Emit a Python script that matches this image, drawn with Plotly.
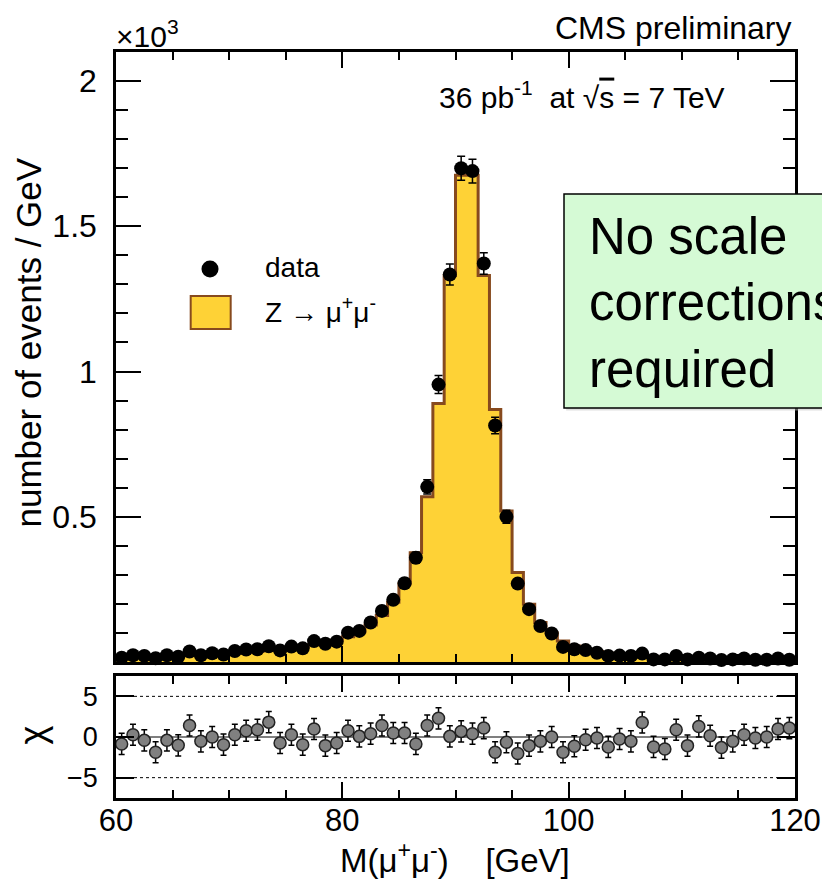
import numpy as np
import plotly.graph_objects as go

# ---- data (x10^3 events / GeV) ----
bin_edges = np.arange(60, 121, 1)          # 1 GeV bins, 60..120
bin_centers = bin_edges[:-1] + 0.5

data_vals = [0.015, 0.023, 0.021, 0.013, 0.023, 0.018, 0.036, 0.023, 0.030, 0.026,
             0.038, 0.043, 0.044, 0.054, 0.040, 0.053, 0.047, 0.072, 0.063, 0.070,
             0.101, 0.107, 0.136, 0.176, 0.214, 0.271, 0.359, 0.603, 0.955, 1.334,
             1.700, 1.690, 1.372, 0.814, 0.500, 0.270, 0.182, 0.124, 0.098, 0.052,
             0.044, 0.041, 0.032, 0.021, 0.022, 0.021, 0.029, 0.009, 0.009, 0.021,
             0.009, 0.015, 0.012, 0.007, 0.009, 0.012, 0.008, 0.008, 0.012, 0.008]

zmumu_vals = [0.016, 0.017, 0.018, 0.019, 0.020, 0.021, 0.023, 0.024, 0.026, 0.028,
              0.030, 0.033, 0.036, 0.040, 0.044, 0.048, 0.053, 0.059, 0.066, 0.075,
              0.087, 0.104, 0.127, 0.160, 0.206, 0.269, 0.376, 0.569, 0.890, 1.331,
              1.676, 1.676, 1.331, 0.869, 0.520, 0.308, 0.199, 0.136, 0.100, 0.072,
              0.055, 0.044, 0.036, 0.030, 0.026, 0.023, 0.020, 0.018, 0.016, 0.015,
              0.014, 0.013, 0.012, 0.011, 0.011, 0.010, 0.010, 0.009, 0.009, 0.009]

chi_vals = [-0.85, 0.28, -0.41, -1.87, -0.41, -1.02, 1.42, -0.53, 0.00, -0.94,
            0.28, 0.77, 0.89, 1.83, -0.73, 0.28, -0.94, 0.98, -1.06, -0.73,
            0.77, 0.08, 0.41, 1.42, 0.49, 0.49, -0.85, 1.42, 2.30, 0.08,
            0.69, 0.41, 1.10, -1.87, -0.65, -2.03, -1.06, -0.53, 0.00, -1.87,
            -1.14, -0.33, -0.12, -1.22, -0.24, -0.53, 1.79, -1.22, -1.47, 0.89,
            -1.06, 1.30, 0.16, -1.30, -0.53, 0.28, -0.12, 0.00, 0.98, 1.10]
chi_err = [1.3] * 60

y_tickvals = [0.5, 1, 1.5, 2]
y_ticktext = ["0.5", "1", "1.5", "2"]
x_tickvals = [60, 80, 100, 120]
chi_tickvals = [-5, 0, 5]

# Poisson errors on data (in x10^3)
data_err = np.sqrt(np.array(data_vals) * 1000.0) / 1000.0

FONT = "Liberation Sans, Arial, Helvetica, sans-serif"
FILL = "#FED236"
EDGE = "#874A1E"

fig = go.Figure()

# MC histogram (step)
fig.add_trace(go.Scatter(
    x=list(bin_edges), y=list(zmumu_vals) + [zmumu_vals[-1]],
    mode="lines", line=dict(shape="hv", color=EDGE, width=3),
    fill="tozeroy", fillcolor=FILL, xaxis="x", yaxis="y",
    showlegend=False, hoverinfo="skip"))

# data
fig.add_trace(go.Scatter(
    x=bin_centers, y=data_vals, mode="markers",
    marker=dict(color="black", size=14),
    error_y=dict(type="data", array=data_err, color="black", thickness=1.5, width=4),
    xaxis="x", yaxis="y", showlegend=False, cliponaxis=False))

# chi panel
fig.add_trace(go.Scatter(
    x=bin_centers, y=chi_vals, mode="markers",
    marker=dict(color="#808080", size=12, line=dict(color="#222222", width=1.5)),
    error_y=dict(type="data", array=chi_err, color="black", thickness=1.5, width=3),
    xaxis="x2", yaxis="y2", showlegend=False))

axis_common = dict(showline=True, linecolor="black", mirror="ticks", ticks="inside",
                   tickcolor="black", showgrid=False, zeroline=False, automargin=False)

fig.update_layout(
    width=822, height=883,
    margin=dict(l=116, r=27, t=52, b=85),
    paper_bgcolor="white", plot_bgcolor="white",
    font=dict(family=FONT, color="black", size=28),
    xaxis=dict(**axis_common, range=[60, 120], domain=[0, 1], anchor="y",
               tickvals=x_tickvals, showticklabels=False, ticklen=16, tickwidth=1.5,
               linewidth=2.5,
               minor=dict(ticks="inside", dtick=5, ticklen=8, tickcolor="black", tickwidth=1.5)),
    yaxis=dict(**axis_common, range=[0, 2.1], domain=[0.1823, 1], anchor="x",
               tickvals=y_tickvals, ticktext=y_ticktext, ticklen=25, tickwidth=1.5,
               linewidth=2.5, tickfont=dict(size=32), ticklabelstandoff=10,
               minor=dict(ticks="inside", dtick=0.1, tick0=0, ticklen=12,
                          tickcolor="black", tickwidth=1.5)),
    xaxis2=dict(**axis_common, range=[60, 120], domain=[0, 1], anchor="y2",
                tickvals=x_tickvals, ticklen=16, tickwidth=1.5, linewidth=2.5,
                tickfont=dict(size=31), ticklabelstandoff=-7,
                minor=dict(ticks="inside", dtick=5, ticklen=8, tickcolor="black", tickwidth=1.5)),
    yaxis2=dict(**axis_common, range=[-7.5, 7.5], domain=[0, 0.1635], anchor="x2",
                tickvals=chi_tickvals, ticklen=18, tickwidth=1.5, linewidth=2.5,
                tickfont=dict(size=27), ticklabelstandoff=10),
)

shapes = [
    # chi reference lines
    dict(type="line", xref="x2", yref="y2", x0=60, x1=120, y0=5, y1=5,
         line=dict(color="black", width=1, dash="dot")),
    dict(type="line", xref="x2", yref="y2", x0=60, x1=120, y0=-5, y1=-5,
         line=dict(color="black", width=1, dash="dot")),
    dict(type="line", xref="x2", yref="y2", x0=60, x1=120, y0=0, y1=0,
         line=dict(color="black", width=1.2), layer="below"),
    # legend symbols
    dict(type="circle", xref="paper", yref="paper", x0=0.1259, x1=0.1510,
         y0=0.6977, y1=0.7205, fillcolor="black", line=dict(color="black", width=0)),
    dict(type="rect", xref="paper", yref="paper", x0=0.110, x1=0.1689,
         y0=0.6287, y1=0.6729, fillcolor=FILL, line=dict(color=EDGE, width=2)),
    # green note box (shadow + box)
    dict(type="rect", xref="paper", yref="paper", x0=0.6630, x1=1.12,
         y0=0.5195, y1=0.8060, fillcolor="#c0c0c0", line=dict(width=0), layer="above",
         opacity=0.5),
    dict(type="rect", xref="paper", yref="paper", x0=0.6598, x1=1.12,
         y0=0.5228, y1=0.8097, fillcolor="#D5FAD5", line=dict(color="black", width=1.5),
         layer="above"),
]
fig.update_layout(shapes=shapes)

annotations = [
    dict(text="×10<sup>3</sup>", x=-0.003, y=1.0, xref="paper", yref="paper",
         xanchor="left", yanchor="bottom", showarrow=False, font=dict(size=30), yshift=-3),
    dict(text="CMS preliminary", x=0.997, y=1.032, xref="paper", yref="paper",
         xanchor="right", yanchor="middle", showarrow=False, font=dict(size=32)),
    dict(text="36 pb<sup>-1</sup>  at √<span style='text-decoration:overline'>s</span> = 7 TeV",
         x=0.4728, y=0.9424, xref="paper", yref="paper",
         xanchor="left", yanchor="middle", showarrow=False, font=dict(size=30)),
    dict(text="data", x=0.2165, y=0.7105, xref="paper", yref="paper",
         xanchor="left", yanchor="middle", showarrow=False, font=dict(size=28)),
    dict(text="Z → μ<sup>+</sup>μ<sup>-</sup>", x=0.2165, y=0.6542, xref="paper", yref="paper",
         xanchor="left", yanchor="middle", showarrow=False, font=dict(size=28)),
    dict(text="number of events / GeV", x=-0.1296, y=0.6106, xref="paper", yref="paper",
         xanchor="center", yanchor="middle", textangle=-90, showarrow=False,
         font=dict(size=35)),
    dict(text="χ", x=-0.123, y=0.0845, xref="paper", yref="paper",
         xanchor="center", yanchor="middle", textangle=-90, showarrow=False,
         font=dict(size=36)),
    dict(text="M(μ<sup>+</sup>μ<sup>-</sup>)\u00a0\u00a0\u00a0\u00a0[GeV]", x=0.4993, y=-0.081,
         xref="paper", yref="paper", xanchor="center", yanchor="middle",
         showarrow=False, font=dict(size=33)),
    dict(text="No scale<br>corrections<br>required", x=0.6937, y=0.6635,
         xref="paper", yref="paper", xanchor="left", yanchor="middle", align="left",
         showarrow=False, font=dict(size=51)),
]
fig.update_layout(annotations=annotations)

fig.write_html("out.html")
